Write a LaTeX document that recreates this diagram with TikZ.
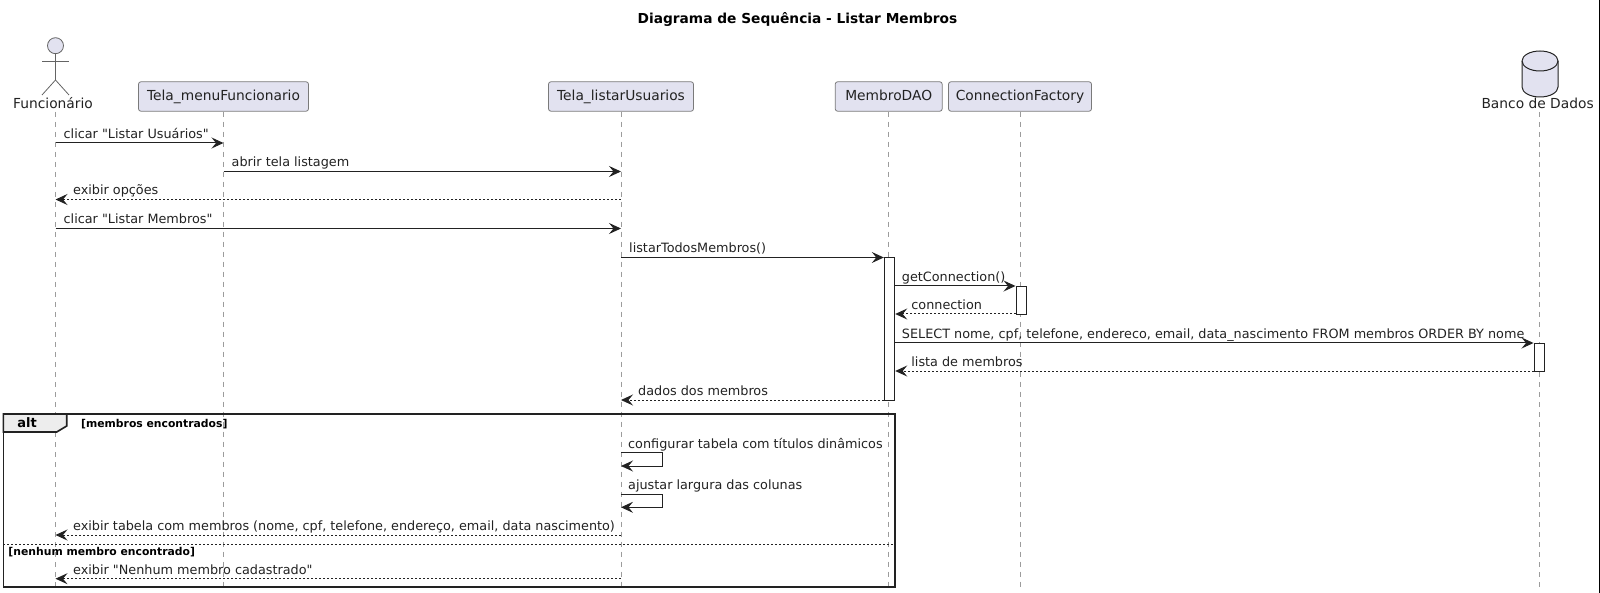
\documentclass[tikz,border=0pt]{standalone}
\usepackage{fontspec}
\setmainfont[Ligatures=TeXOff]{DejaVu Sans}
\usetikzlibrary{arrows.meta}
\definecolor{caixa}{HTML}{E2E2F0}
\definecolor{traco}{HTML}{222222}
\tikzset{
	caixa/.style={draw=traco!60, fill=caixa, line width=0.8pt, rounded corners=2.5pt, minimum height=29.5pt, inner sep=0pt, text height=12pt, text depth=3pt, font=\fontsize{13.8}{16}\selectfont, text=traco},
	nome/.style={inner sep=0pt, anchor=base, text=traco, font=\fontsize{13.8}{16}\selectfont},
	rotulo/.style={inner sep=0pt, anchor=base west, text=traco, font=\fontsize{12.8}{15}\selectfont},
	guarda/.style={inner sep=0pt, anchor=base west, text=black, font=\bfseries\fontsize{10.8}{13}\selectfont},
	vida/.style={draw=traco!45, line width=0.8pt, dash pattern=on 5pt off 5pt},
	ator/.style={draw=traco!70, line width=0.8pt},
	ativo/.style={draw=traco, fill=white, line width=0.9pt, minimum width=10.5pt, inner sep=0pt},
	cheia/.style={draw=traco, line width=1pt, -{Stealth[length=12pt, width=11pt, inset=4.5pt]}},
	volta/.style={cheia, dash pattern=on 2pt off 2pt},
	quadro/.style={draw=traco, line width=1.6pt},
}
% msg: estilo, nome, origem, destino, y, ponta do texto, recuo, texto
\def\msg[#1](#2)(#3)(#4:#5)(#6:#7)#8{
	\coordinate (#2a) at (#3 |- 0,#5);
	\coordinate (#2b) at (#4 |- 0,#5);
	\draw[#1] (#2a) -- (#2b);
	\node[rotulo] (#2t) at ([xshift=#7pt, yshift=4.7pt]#2#6) {#8};
}
% automsg: nome, origem, y, texto
\def\automsg(#1)(#2:#3)#4{
	\coordinate (#1a) at (#2 |- 0,#3);
	\coordinate (#1b) at ([yshift=-13.3pt]#1a);
	\draw[cheia] (#1a) -- ++(41, 0) -- ++(0, 13.3) -- (#1b);
	\node[rotulo] (#1t) at ([xshift=7pt, yshift=4.7pt]#1a) {#4};
}
\begin{document}
\begin{tikzpicture}[x=1pt, y=-1pt]
		%%%%% START %%%%%
		\useasboundingbox (0, 0) rectangle (1600, 593);
		\fill[black] (1599, 0) rectangle (1600, 593);
		
		\node[inner sep=0pt, anchor=base, text=black, font=\bfseries\fontsize{13.75}{16}\selectfont] (titulo) at (797.5, 23.3) {Diagrama de Sequência - Listar Membros};
		
		% participantes
		\coordinate (func) at (55.5, 112);
		\node[caixa, minimum width=170pt] (menu) at (223.5, 96.5) {Tela\_menuFuncionario};
		\node[caixa, minimum width=145pt] (listar) at (621, 96.5) {Tela\_listarUsuarios};
		\node[caixa, minimum width=107pt] (dao) at (888.7, 96.5) {MembroDAO};
		\node[caixa, minimum width=143pt] (fabrica) at (1020, 96.5) {ConnectionFactory};
		\coordinate (banco) at (1539, 112);
		
		% linhas de vida
		\coordinate (fim) at (0, 590);
		\draw[vida] (func) -- (func |- fim);
		\draw[vida] (menu.south) -- (menu.south |- fim);
		\draw[vida] (listar.south) -- (listar.south |- fim);
		\draw[vida] (dao.south) -- (dao.south |- fim);
		\draw[vida] (fabrica.south) -- (fabrica.south |- fim);
		\draw[vida] (banco) -- (banco |- fim);
		
		% ator
		\draw[ator, fill=caixa] (55.5, 45.7) circle (8);
		\draw[ator] (55.5, 53.7) -- (55.5, 80) -- (42, 95);
		\draw[ator] (55.5, 80) -- (69, 95);
		\draw[ator] (42, 61) -- (68.5, 61);
		\node[nome] (funcnome) at (53, 109) {Funcionário};
		
		% banco
		\draw[draw=traco, fill=caixa, line width=1pt] (1522, 61) arc (180:360:18 and 10) -- (1558, 87) arc (0:180:18 and 10) -- cycle;
		\draw[draw=traco, line width=1pt] (1522, 61) arc (180:0:18 and 10);
		\node[nome] (banconome) at (1537.6, 109) {Banco de Dados};
		
		% ativacoes
		\node[ativo, minimum height=142.5pt] (adao) at (889.5, 328.75) {};
		\node[ativo, minimum height=28pt] (afabrica) at (1021.2, 300) {};
		\node[ativo, minimum height=28pt] (abanco) at (1539.2, 357) {};
		
		% mensagens
		\msg[cheia](m1)(func)(menu.south:143)(a:8){clicar "Listar Usuários"}
		\msg[cheia](m2)(menu.south)(listar.south:171.5)(a:8){abrir tela listagem}
		\msg[volta](m3)(listar.south)(func:199.5)(b:17.5){exibir opções}
		\msg[cheia](m4)(func)(listar.south:228.5)(a:8){clicar "Listar Membros"}
		\msg[cheia](m5)(listar.south)(adao.west:257.5)(a:8){listarTodosMembros()}
		\msg[cheia](m6)(adao.east)(afabrica.west:286)(a:6.5){getConnection()}
		\msg[volta](m7)(afabrica.west)(adao.east:314)(b:16){connection}
		\msg[cheia](m8)(adao.east)(abanco.west:343)(a:6.5){SELECT nome, cpf, telefone, endereco, email, data\_nascimento FROM membros ORDER BY nome}
		\msg[volta](m9)(abanco.west)(adao.east:371)(b:16){lista de membros}
		\msg[volta](m10)(adao.west)(listar.south:400)(b:17){dados dos membros}
		
		% alt
		\coordinate (altA) at (3.3, 414);
		\coordinate (altB) at (895, 586.7);
		\draw[quadro] (altA) rectangle (altB);
		\draw[quadro, fill=black!7] (altA) -- (66.7, 414) -- (66.7, 426) -- (56.7, 432) -- (3.3, 432) -- cycle;
		\node[inner sep=0pt, anchor=base, text=black, font=\bfseries\fontsize{13}{15}\selectfont] (alttitulo) at (27, 427) {alt};
		\node[guarda] (guarda1) at (81, 427) {[membros encontrados]};
		\automsg(m11)(listar.south:452.7){configurar tabela com títulos dinâmicos}
		\automsg(m12)(listar.south:494){ajustar largura das colunas}
		\msg[volta](m13)(listar.south)(func:535)(b:17.5){exibir tabela com membros (nome, cpf, telefone, endereço, email, data nascimento)}
		\coordinate (sepA) at (3.3, 544.3);
		\draw[draw=traco, line width=1pt, dash pattern=on 2pt off 2pt] (sepA) -- (altB |- sepA);
		\node[guarda] (guarda2) at (8.3, 555) {[nenhum membro encontrado]};
		\msg[volta](m14)(listar.south)(func:578.7)(b:17.5){exibir "Nenhum membro cadastrado"}
		
		%%%%% END %%%%%
	\end{tikzpicture}
\end{document}
